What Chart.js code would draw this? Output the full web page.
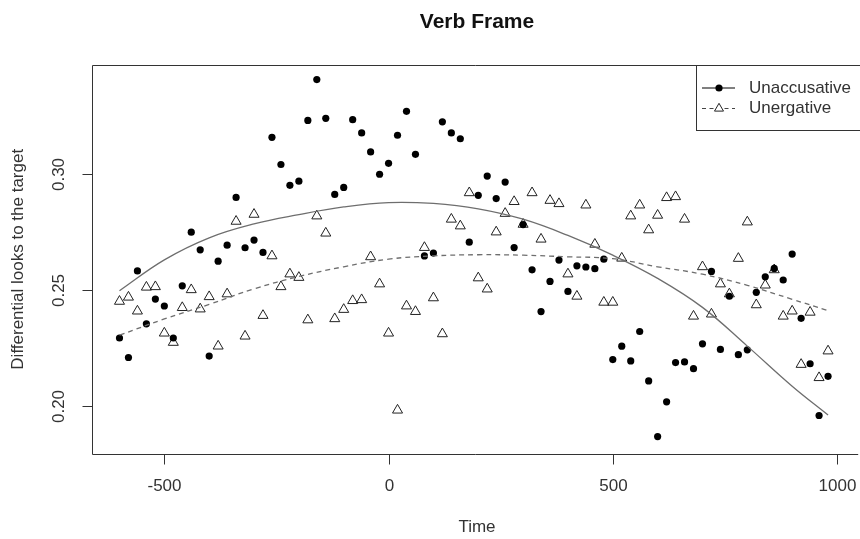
<!DOCTYPE html>
<html><head><meta charset="utf-8">
<script src="https://cdn.jsdelivr.net/npm/chart.js@4/dist/chart.umd.min.js"></script>
<style>html,body{margin:0;padding:0;background:#fff;}canvas{display:block}</style>
</head><body>
<div style="width:860px;height:539px"><canvas id="c" width="860" height="539"></canvas></div>
<script>
// ---- data ----
const times = [-600,-580,-560,-540,-520,-500,-480,-460,-440,-420,-400,-380,-360,-340,-320,-300,-280,-260,-240,-220,
  -200,-180,-160,-140,-120,-100,-80,-60,-40,-20,0,20,40,60,80,100,120,140,160,180,
  200,220,240,260,280,300,320,340,360,380,400,420,440,460,480,500,520,540,560,580,
  600,620,640,660,680,700,720,740,760,780,800,820,840,860,880,900,920,940,960,980];
const unaccusative = [0.2293,0.2209,0.2582,0.2354,0.2461,0.2431,0.2293,0.2518,0.2749,0.2673,
  0.2215,0.2624,0.2693,0.2899,0.2682,0.2715,0.2662,0.3158,0.3041,0.2951,
  0.2969,0.3231,0.3407,0.3240,0.2912,0.2942,0.3234,0.3177,0.3095,0.2999,
  0.3046,0.3167,0.3270,0.3085,0.2647,0.2659,0.3225,0.3177,0.3152,0.2706,
  0.2908,0.2991,0.2894,0.2965,0.2683,0.2782,0.2587,0.2407,0.2537,0.2629,
  0.2494,0.2604,0.2599,0.2592,0.2633,0.2200,0.2258,0.2194,0.2321,0.2108,
  0.1868,0.2018,0.2187,0.2190,0.2161,0.2268,0.2580,0.2244,0.2473,0.2221,
  0.2242,0.2490,0.2557,0.2593,0.2543,0.2655,0.2378,0.2182,0.1959,0.2128];
const unergative = [0.2451,0.2469,0.2409,0.2512,0.2514,0.2314,0.2274,0.2424,0.2501,0.2418,
  0.2471,0.2258,0.2483,0.2796,0.2301,0.2826,0.2390,0.2647,0.2514,0.2569,
  0.2554,0.2371,0.2819,0.2745,0.2376,0.2416,0.2454,0.2458,0.2643,0.2526,
  0.2314,0.1982,0.2431,0.2407,0.2683,0.2466,0.2311,0.2805,0.2776,0.2919,
  0.2552,0.2504,0.2750,0.2830,0.2881,0.2783,0.2919,0.2719,0.2886,0.2872,
  0.2569,0.2473,0.2866,0.2697,0.2447,0.2447,0.2637,0.2819,0.2866,0.2759,
  0.2822,0.2898,0.2902,0.2805,0.2387,0.2600,0.2396,0.2526,0.2483,0.2636,
  0.2793,0.2436,0.2521,0.2587,0.2387,0.2409,0.2179,0.2404,0.2122,0.2237];
const fitTimes = [-600,-500,-400,-300,-200,-100,0,100,200,300,400,500,600,700,800,900,980];
const unaccusativeFit = [0.2497,0.2630,0.2725,0.2785,0.2825,0.2858,0.2877,0.2873,0.2850,0.2805,0.2735,0.2650,0.2550,0.2425,0.2258,0.2085,0.1961];
const unergativeFit = [0.2305,0.2375,0.2438,0.2505,0.2558,0.2600,0.2633,0.2647,0.2652,0.2650,0.2643,0.2635,0.2600,0.2568,0.2520,0.2460,0.2411];
const xTicks = [-500, 0, 500, 1000];
const xTickLabels = ['-500', '0', '500', '1000'];
const yTicks = [0.20, 0.25, 0.30];
const yTickLabels = ['0.20', '0.25', '0.30'];
const seriesNames = ['Unaccusative', 'Unergative'];
const titleText = 'Verb Frame';
const xTitle = 'Time';
const yTitle = 'Differential looks to the target';

const FONT = '"Liberation Sans", Arial, sans-serif';
const pts = (xs, ys) => xs.map((t, i) => ({x: t, y: ys[i]}));

const decor = {
  id: 'decor',
  afterDraw(chart) {
    const {ctx, chartArea: a, scales: {x, y}} = chart;
    ctx.save();
    const axisCol = '#333';
    ctx.strokeStyle = axisCol; ctx.lineWidth = 1;
    // plot box (right side falls outside the picture)
    const L = Math.round(a.left) + 0.5, T = Math.round(a.top) + 0.5, B = Math.round(a.bottom) + 0.5;
    ctx.beginPath();
    ctx.moveTo(a.right + 5, T); ctx.lineTo(L, T); ctx.lineTo(L, B); ctx.lineTo(a.right + 5, B);
    ctx.stroke();
    // x ticks
    ctx.fillStyle = '#333';
    ctx.font = '17px ' + FONT;
    ctx.textAlign = 'center'; ctx.textBaseline = 'middle';
    xTicks.forEach((v, i) => {
      const px = Math.round(x.getPixelForValue(v)) + 0.5;
      ctx.beginPath(); ctx.moveTo(px, B); ctx.lineTo(px, B + 10); ctx.stroke();
      ctx.fillText(xTickLabels[i], px, 486);
    });
    ctx.fillText(xTitle, (a.left + 862) / 2, 527);
    // y ticks
    yTicks.forEach((v, i) => {
      const py = Math.round(y.getPixelForValue(v)) + 0.5;
      ctx.beginPath(); ctx.moveTo(L - 10, py); ctx.lineTo(L, py); ctx.stroke();
      ctx.save(); ctx.translate(59, py); ctx.rotate(-Math.PI / 2);
      ctx.fillText(yTickLabels[i], 0, 0); ctx.restore();
    });
    ctx.save(); ctx.translate(18.5, (a.top + a.bottom) / 2); ctx.rotate(-Math.PI / 2);
    ctx.fillText(yTitle, 0, 0); ctx.restore();
    // title
    ctx.fillStyle = '#111';
    ctx.font = 'bold 21px ' + FONT;
    ctx.fillText(titleText, (a.left + 862) / 2, 22.5);
    // legend
    ctx.fillStyle = '#fff';
    ctx.fillRect(696.5, T, 200, 131 - T);
    ctx.strokeStyle = axisCol;
    ctx.strokeRect(696.5, T, 200, 130.5 - T);
    const r1 = 88, r2 = 108.5;
    ctx.strokeStyle = '#000';
    ctx.beginPath(); ctx.moveTo(702, r1); ctx.lineTo(735, r1); ctx.stroke();
    ctx.fillStyle = '#000';
    ctx.beginPath(); ctx.arc(719, r1, 3.6, 0, Math.PI * 2); ctx.fill();
    ctx.setLineDash([4, 3.5]);
    ctx.strokeStyle = '#444';
    ctx.beginPath(); ctx.moveTo(702, r2); ctx.lineTo(735, r2); ctx.stroke();
    ctx.setLineDash([]);
    ctx.fillStyle = '#fff';
    const tr = 5.2;
    ctx.beginPath();
    ctx.moveTo(719, r2 - tr);
    ctx.lineTo(719 + tr * Math.sin(2 * Math.PI / 3), r2 + tr / 2);
    ctx.lineTo(719 - tr * Math.sin(2 * Math.PI / 3), r2 + tr / 2);
    ctx.closePath(); ctx.fill(); ctx.strokeStyle = '#222'; ctx.stroke();
    ctx.fillStyle = '#333';
    ctx.font = '17px ' + FONT;
    ctx.textAlign = 'left';
    ctx.fillText(seriesNames[0], 749, r1);
    ctx.fillText(seriesNames[1], 749, r2);
    ctx.restore();
  }
};

new Chart(document.getElementById('c'), {
  type: 'scatter',
  data: {
    datasets: [
      { label: seriesNames[0] + ' fit', data: pts(fitTimes, unaccusativeFit), showLine: true,
        borderColor: '#6e6e6e', borderWidth: 1.3, pointRadius: 0, tension: 0.4, fill: false, order: 0 },
      { label: seriesNames[1] + ' fit', data: pts(fitTimes, unergativeFit), showLine: true,
        borderColor: '#6e6e6e', borderWidth: 1.3, borderDash: [5, 4], pointRadius: 0, tension: 0.4, fill: false, order: 0 },
      { label: seriesNames[0], data: pts(times, unaccusative), pointStyle: 'circle', pointRadius: 3.6,
        backgroundColor: '#000', borderColor: '#000', borderWidth: 0, order: 1 },
      { label: seriesNames[1], data: pts(times, unergative), pointStyle: 'triangle', pointRadius: 5.8,
        backgroundColor: 'rgba(255,255,255,0)', borderColor: '#222', borderWidth: 1, order: 2 }
    ]
  },
  options: {
    responsive: false, animation: false, devicePixelRatio: 1,
    layout: { padding: { left: 92, top: 64.5, right: 0, bottom: 85 } },
    scales: {
      x: { type: 'linear', display: false, min: -661.3, max: 1036.1 },
      y: { type: 'linear', display: false, min: 0.1793, max: 0.3472 }
    },
    plugins: { legend: { display: false }, tooltip: { enabled: false }, title: { display: false } }
  },
  plugins: [decor]
});
</script>
</body></html>
